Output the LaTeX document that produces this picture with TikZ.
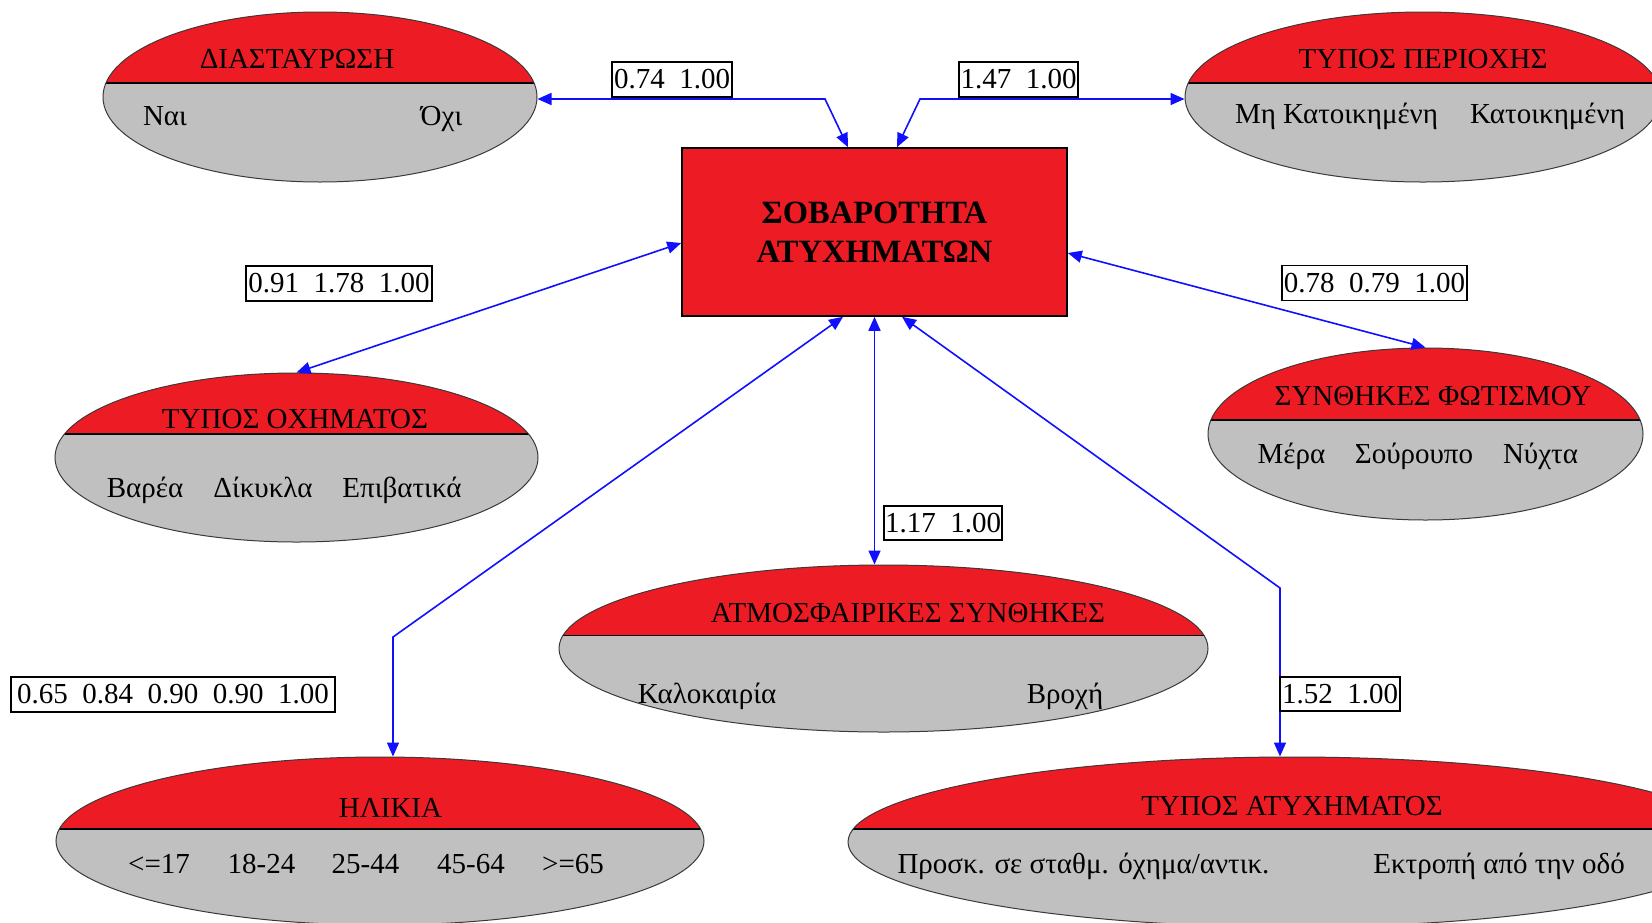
\documentclass[tikz,border=0pt]{standalone}
\usepackage{fontspec}
\setmainfont{Liberation Serif}
\usetikzlibrary{shapes.geometric,arrows.meta}
\definecolor{redc}{HTML}{ED1C24}
\definecolor{grayc}{HTML}{C0C0C0}
\definecolor{outl}{HTML}{3A3A3A}
\definecolor{bluec}{HTML}{1010FF}
\tikzset{
  varnode/.style={ellipse, draw=outl, line width=1pt, fill=grayc, inner sep=0pt,
    path picture={
      \fill[redc] (path picture bounding box.north west) rectangle ([yshift=#1]path picture bounding box.east);
      \draw[black, line width=1.3pt] ([yshift=#1]path picture bounding box.west) -- ([yshift=#1]path picture bounding box.east);
    }},
  sevbox/.style={rectangle, draw=black, line width=1.6pt, fill=redc, minimum width=385pt, minimum height=168pt,
    align=center, font=\fontsize{32.5}{39}\selectfont\bfseries},
  txt/.style={anchor=base, inner sep=0pt, font=\fontsize{29}{34}\selectfont},
  lab/.style={rectangle, draw=black, line width=1.3pt, fill=white, inner sep=0pt,
    minimum height=35pt, font=\fontsize{29}{34}\selectfont},
  conn/.style={draw=bluec, line width=1.6pt, <->, >={Triangle[length=14pt,width=12pt]}},
}
\newcommand{\gap}{\hspace{0.5em}}
\begin{document}
\begin{tikzpicture}[x=1pt,y=-1pt]
\useasboundingbox[fill=white] (0,0) rectangle (1652,922);

% central variable
\node[sevbox] (sev) at (874.5,232) {ΣΟΒΑΡΟΤΗΤΑ\\ΑΤΥΧΗΜΑΤΩΝ};

% variable ellipses
\node[varnode=14, minimum width=434pt, minimum height=170pt] (dia) at (320,97) {};
\node[varnode=14, minimum width=476pt, minimum height=170pt] (per) at (1423,97) {};
\node[varnode=23.5, minimum width=483pt, minimum height=169pt] (veh) at (296.5,457.5) {};
\node[varnode=14, minimum width=435pt, minimum height=172pt] (lig) at (1425.5,434) {};
\node[varnode=13, minimum width=649pt, minimum height=167pt] (atm) at (883.5,648.5) {};
\node[varnode=12, minimum width=648pt, minimum height=168pt] (age) at (380,841) {};
\node[varnode=13, minimum width=888pt, minimum height=170pt] (acc) at (1292,842) {};

% titles and states
\node[txt] (diaH) at (297,68) {ΔΙΑΣΤΑΥΡΩΣΗ};
\node[txt] (dia1) at (165,125) {Ναι};
\node[txt] (dia2) at (441.5,125) {Όχι};

\node[txt] (perH) at (1423,68) {ΤΥΠΟΣ ΠΕΡΙΟΧΗΣ};
\node[txt] (per1) at (1336.5,123) {Μη Κατοικημένη};
\node[txt] (per2) at (1547.5,123) {Κατοικημένη};

\node[txt] (vehH) at (295,428) {ΤΥΠΟΣ ΟΧΗΜΑΤΟΣ};
\node[txt] (veh1) at (145,497) {Βαρέα};
\node[txt] (veh2) at (263,497) {Δίκυκλα};
\node[txt] (veh3) at (402,497) {Επιβατικά};

\node[txt] (ligH) at (1433,405) {ΣΥΝΘΗΚΕΣ ΦΩΤΙΣΜΟΥ};
\node[txt] (lig1) at (1291.5,463) {Μέρα};
\node[txt] (lig2) at (1414,463) {Σούρουπο};
\node[txt] (lig3) at (1540.5,463) {Νύχτα};

\node[txt] (atmH) at (908,622) {ΑΤΜΟΣΦΑΙΡΙΚΕΣ ΣΥΝΘΗΚΕΣ};
\node[txt] (atm1) at (707,703) {Καλοκαιρία};
\node[txt] (atm2) at (1065,703) {Βροχή};

\node[txt] (ageH) at (390.5,817) {ΗΛΙΚΙΑ};
\node[txt] (age1) at (159,873) {<=17};
\node[txt] (age2) at (261.5,873) {18-24};
\node[txt] (age3) at (365.5,873) {25-44};
\node[txt] (age4) at (471,873) {45-64};
\node[txt] (age5) at (573,873) {>=65};

\node[txt] (accH) at (1292,815) {ΤΥΠΟΣ ΑΤΥΧΗΜΑΤΟΣ};
\node[txt] (acc1) at (1083.5,873) {Προσκ. σε σταθμ. όχημα/αντικ.};
\node[txt] (acc2) at (1499,873) {Εκτροπή από την οδό};

% bend points of the routed links
\coordinate (k1) at (825,99);
\coordinate (k2) at (920,99);
\coordinate (k3) at (393,637);
\coordinate (k4) at (1280,588);

% links
\draw[conn] (dia.east |- k1) -- (k1) -- ([xshift=-26.5pt]sev.north);
\draw[conn] (per.west |- k2) -- (k2) -- ([xshift=22.5pt]sev.north);
\draw[conn] ([yshift=-11pt]sev.west) -- (veh.north);
\draw[conn] ([yshift=-21pt]sev.east) -- (lig.north);
\draw[conn] (sev.south) -- (sev.south |- atm.north);
\draw[conn] ([xshift=-31.5pt]sev.south) -- (k3) -- (k3 |- age.north);
\draw[conn] ([xshift=27.5pt]sev.south) -- (k4) -- (k4 |- acc.north);

% link values
\node[lab, minimum width=120pt] (l1) at (672,79.5) {0.74\gap1.00};
\node[lab, minimum width=119pt] (l2) at (1018.5,79.5) {1.47\gap1.00};
\node[lab, minimum width=186pt] (l3) at (339,283.5) {0.91\gap1.78\gap1.00};
\node[lab, minimum width=185pt] (l4) at (1374.5,283) {0.78\gap0.79\gap1.00};
\node[lab, minimum width=118pt, minimum height=34pt] (l5) at (943,523) {1.17\gap1.00};
\node[lab, minimum width=324pt] (l6) at (173,694.5) {0.65\gap0.84\gap0.90\gap0.90\gap1.00};
\node[lab, minimum width=120pt, minimum height=34pt] (l7) at (1340,694) {1.52\gap1.00};
\end{tikzpicture}
\end{document}
